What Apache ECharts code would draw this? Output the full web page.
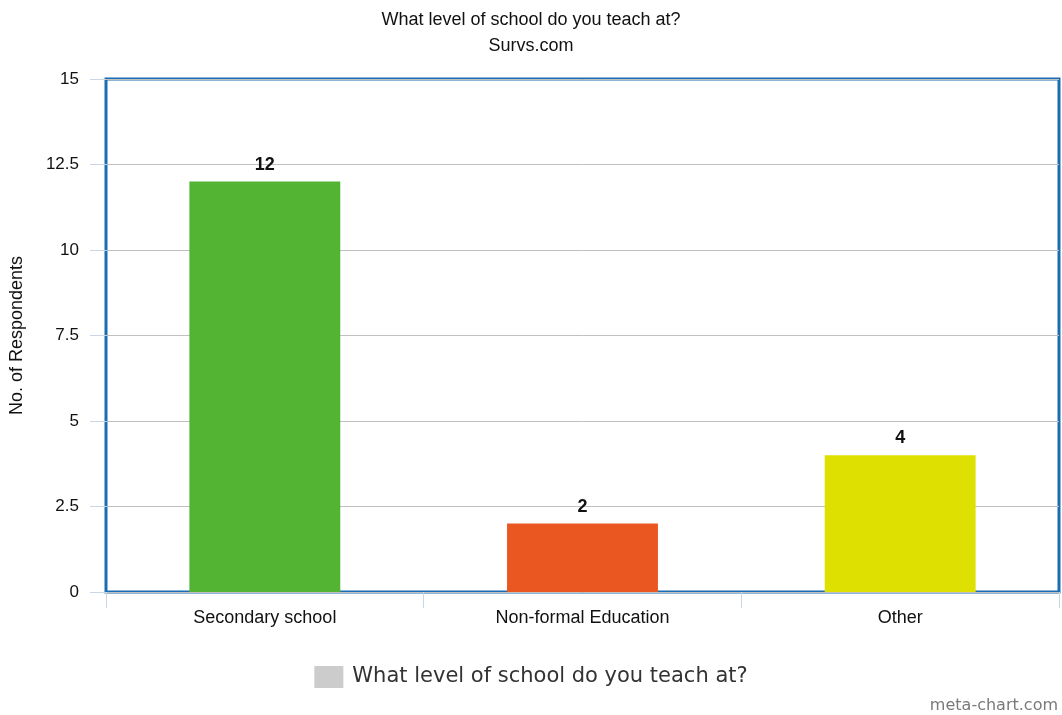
<!DOCTYPE html>
<html>
<head>
<meta charset="utf-8">
<script src="https://cdn.jsdelivr.net/npm/echarts@6/dist/echarts.min.js"></script>
<style>html,body{margin:0;padding:0;background:#fff;}#c{width:1062px;height:715px;}</style>
</head>
<body>
<div id="c"></div>
<script>
const categories = ['Secondary school', 'Non-formal Education', 'Other'];
const values = [12, 2, 4];
const barColors = ['#53b332', '#ea5720', '#dde000'];
const seriesName = 'What level of school do you teach at?';
const titleText = 'What level of school do you teach at?';
const subtitleText = 'Survs.com';
const yAxisName = 'No. of Respondents';

const chart = echarts.init(document.getElementById('c'));
chart.setOption({
  backgroundColor: '#ffffff',
  animation: false,
  title: {
    text: titleText,
    subtext: subtitleText,
    left: 'center',
    top: 6,
    itemGap: 8,
    textStyle: { fontFamily: 'Liberation Sans', fontSize: 18, fontWeight: 'normal', color: '#111' },
    subtextStyle: { fontFamily: 'Liberation Sans', fontSize: 18, color: '#111' }
  },
  legend: {
    data: [seriesName],
    left: 'center',
    top: 661,
    icon: 'rect',
    itemWidth: 29,
    itemHeight: 22,
    itemGap: 10,
    textStyle: { fontFamily: 'DejaVu Sans', fontSize: 21, color: '#333', padding: [0, 0, 0, 4] }
  },
  grid: {
    left: 106, right: 3, top: 79, bottom: 123,
    show: true, borderColor: '#1a6db5', borderWidth: 3, backgroundColor: 'transparent'
  },
  xAxis: {
    type: 'category',
    data: categories,
    axisLine: { show: false },
    axisTick: { show: true, alignWithLabel: false, length: 16, lineStyle: { color: '#c9d6e3', width: 1 } },
    axisLabel: { fontFamily: 'Liberation Sans', fontSize: 18, color: '#111', margin: 17 }
  },
  yAxis: {
    type: 'value',
    min: 0, max: 15, interval: 2.5,
    name: yAxisName,
    nameLocation: 'middle',
    nameGap: 80,
    nameTextStyle: { fontFamily: 'Liberation Sans', fontSize: 18, color: '#111' },
    axisLine: { show: false },
    axisTick: { show: true, length: 16, lineStyle: { color: '#c9d6e3', width: 1 } },
    axisLabel: { fontFamily: 'Liberation Sans', fontSize: 17, color: '#111', margin: 27 },
    splitLine: { show: true, lineStyle: { color: '#c0c0c0', width: 1 } }
  },
  series: [{
    name: seriesName,
    type: 'bar',
    barWidth: '47.5%',
    itemStyle: { color: '#cccccc' },
    data: values.map((v, i) => ({ value: v, itemStyle: { color: barColors[i] } })),
    label: {
      show: true, position: 'top', distance: 8,
      fontFamily: 'Liberation Sans', fontSize: 18, fontWeight: 'bold', color: '#111'
    }
  }],
  graphic: [{
    type: 'text',
    right: 4,
    top: 698,
    style: { text: 'meta-chart.com', fontFamily: 'DejaVu Sans', fontSize: 16, fill: '#7a7a7a' }
  }]
});
</script>
</body>
</html>
